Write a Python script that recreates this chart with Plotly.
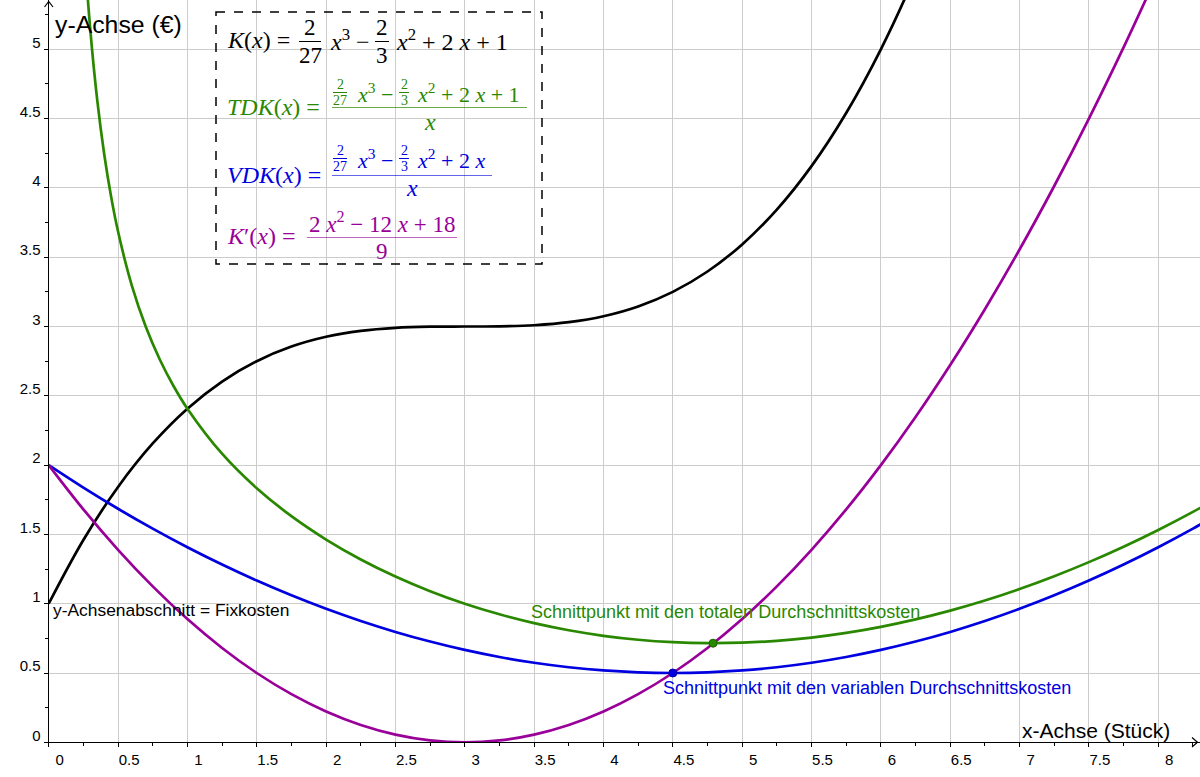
import plotly.graph_objects as go

# ---------- data ----------
x_steps = [0, 0.25, 0.5, 0.75, 1.0, 1.25, 1.5, 1.75, 2.0, 2.25, 2.5, 2.75, 3.0, 3.25,
           3.5, 3.75, 4.0, 4.25, 4.5, 4.75, 5.0, 5.25, 5.5, 5.75, 6.0, 6.25, 6.5,
           6.75, 7.0, 7.25, 7.5, 7.75, 8.0, 8.25, 8.5]

# K(x) total cost
k_vals = [1.0, 1.4595, 1.8426, 2.1563, 2.4074, 2.6030, 2.75, 2.8553, 2.9259, 2.9688,
          2.9907, 2.9988, 3.0, 3.0012, 3.0093, 3.0313, 3.0741, 3.1447, 3.25, 3.3970,
          3.5926, 3.8438, 4.1574, 4.5405, 5.0, 5.5428, 6.1759]

# VDK(x) average variable cost
vdk_vals = [2.0, 1.8380, 1.6852, 1.5417, 1.4074, 1.2824, 1.1667, 1.0602, 0.9630, 0.875,
            0.7963, 0.7269, 0.6667, 0.6157, 0.5741, 0.5417, 0.5185, 0.5046, 0.5, 0.5046,
            0.5185, 0.5417, 0.5741, 0.6157, 0.6667, 0.7269, 0.7963, 0.875, 0.9630, 1.0602,
            1.1667, 1.2824, 1.4074, 1.5417, 1.6852]

# K'(x) marginal cost
mk_vals = [2.0, 1.6806, 1.3889, 1.125, 0.8889, 0.6806, 0.5, 0.3472, 0.2222, 0.125,
           0.0556, 0.0139, 0.0, 0.0139, 0.0556, 0.125, 0.2222, 0.3472, 0.5, 0.6806,
           0.8889, 1.125, 1.3889, 1.6806, 2.0, 2.3472, 2.7222, 3.125, 3.5556, 4.0139,
           4.5, 5.0139, 5.5556]

# TDK(x) average total cost
x_tdk = [0.2, 0.25, 0.3, 0.35, 0.4, 0.45, 0.5, 0.6, 0.7, 0.8, 0.9, 1.0, 1.25, 1.5, 1.75,
         2.0, 2.25, 2.5, 2.75, 3.0, 3.25, 3.5, 3.75, 4.0, 4.25, 4.5, 4.75, 5.0, 5.25,
         5.5, 5.75, 6.0, 6.25, 6.5, 6.75, 7.0, 7.25, 7.5, 7.75, 8.0, 8.25, 8.5]
tdk_vals = [6.8696, 5.8380, 5.1400, 4.6329, 4.2452, 3.9372, 3.6852, 3.2933, 2.9982, 2.7641,
            2.5711, 2.4074, 2.0824, 1.8333, 1.6316, 1.4630, 1.3194, 1.1963, 1.0905, 1.0000,
            0.9234, 0.8598, 0.8083, 0.7685, 0.7399, 0.7222, 0.7151, 0.7185, 0.7321, 0.7559,
            0.7896, 0.8333, 0.8869, 0.9501, 1.0231, 1.1058, 1.1981, 1.3000, 1.4114, 1.5324,
            1.6629, 1.8028]

# intersection points
pt_tdk = (4.79, 0.715)
pt_vdk = (4.5, 0.5)

BLACK = "#000000"
GREEN = "#2a8800"
BLUE = "#0000e0"
PURPLE = "#990099"

W, H = 1200, 777
AX_X = 48.7    # pixel column of the y-axis
AX_Y = 742.3   # pixel row of the x-axis


def px(x):
    return x / W


def py(y):
    return 1 - y / H


annotations = []
shapes = []


def txt(x, y, s, size, color, xanchor="left", family="Liberation Serif"):
    annotations.append(dict(x=px(x), y=py(y), xref="paper", yref="paper", text=s,
                            showarrow=False, xanchor=xanchor, yanchor="middle",
                            font=dict(family=family, size=size, color=color)))


def bar(x0, x1, y, color, width=1.2, opacity=1.0):
    shapes.append(dict(type="line", xref="paper", yref="paper",
                       x0=px(x0), x1=px(x1), y0=py(y), y1=py(y),
                       line=dict(color=color, width=width), opacity=opacity))


def frac(xc, y_num, y_bar, y_den, num, den, size, color, half):
    txt(xc, y_num, num, size, color, "center")
    txt(xc, y_den, den, size, color, "center")
    bar(xc - half, xc + half, y_bar, color, 1)


fig = go.Figure()

fig.add_trace(go.Scatter(x=x_steps[:len(k_vals)], y=k_vals, mode="lines",
                         line=dict(color=BLACK, width=2.7, shape="spline")))
fig.add_trace(go.Scatter(x=x_tdk, y=tdk_vals, mode="lines",
                         line=dict(color=GREEN, width=2.7, shape="spline")))
fig.add_trace(go.Scatter(x=x_steps[:len(vdk_vals)], y=vdk_vals, mode="lines",
                         line=dict(color=BLUE, width=2.7, shape="spline")))
fig.add_trace(go.Scatter(x=x_steps[:len(mk_vals)], y=mk_vals, mode="lines",
                         line=dict(color=PURPLE, width=2.7, shape="spline")))
fig.add_trace(go.Scatter(x=[pt_tdk[0]], y=[pt_tdk[1]], mode="markers", cliponaxis=False,
                         marker=dict(color=GREEN, size=8, line=dict(color="#1e6400", width=1))))
fig.add_trace(go.Scatter(x=[pt_vdk[0]], y=[pt_vdk[1]], mode="markers", cliponaxis=False,
                         marker=dict(color=BLUE, size=8, line=dict(color="#0000a0", width=1))))

# ---------- labels ----------
sans = "Liberation Sans, Arial, sans-serif"
txt(53, 24, "y-Achse (€)", 24.8, BLACK, family=sans)
txt(1172, 730, "x-Achse (Stück)", 21, BLACK, "right", family=sans)
txt(51, 609.5, "y-Achsenabschnitt = Fixkosten", 17.4, BLACK, family=sans)
txt(529, 612, "Schnittpunkt mit den totalen Durchschnittskosten", 18, GREEN, family=sans)
txt(661, 688, "Schnittpunkt mit den variablen Durchschnittskosten", 18, BLUE, family=sans)

# ---------- formula box ----------
shapes.append(dict(type="rect", xref="paper", yref="paper",
                   x0=px(216), x1=px(542), y0=py(12), y1=py(264),
                   line=dict(color=BLACK, width=1.5, dash="dash")))

# K(x)
txt(225, 40, "<i>K</i>(<i>x</i>) =", 24, BLACK)
frac(310, 27, 41.5, 55, "2", "27", 23, BLACK, 11)
txt(328, 40, "<i>x</i><sup>3</sup> −", 24, BLACK)
frac(382, 27, 41.5, 55, "2", "3", 23, BLACK, 7)
txt(394, 40, "<i>x</i><sup>2</sup> + 2 <i>x</i> + 1", 24, BLACK)

# TDK(x)
txt(225, 107, "<i>TDK</i>(<i>x</i>) =", 24, GREEN)
frac(340, 84.5, 92.5, 100.5, "2", "27", 14, GREEN, 7)
txt(355, 93, "<i>x</i><sup>3</sup> −", 22, GREEN)
frac(404, 84.5, 92.5, 100.5, "2", "3", 14, GREEN, 5)
txt(415, 93, "<i>x</i><sup>2</sup> + 2 <i>x</i> + 1", 22, GREEN)
bar(332, 527, 107.5, GREEN, 1.2, 0.7)
txt(430, 122, "<i>x</i>", 24, GREEN, "center")

# VDK(x)
txt(225, 175, "<i>VDK</i>(<i>x</i>) =", 24, BLUE)
frac(340, 150.5, 158.5, 166.5, "2", "27", 14, BLUE, 7)
txt(355, 159, "<i>x</i><sup>3</sup> −", 22, BLUE)
frac(404, 150.5, 158.5, 166.5, "2", "3", 14, BLUE, 5)
txt(415, 159, "<i>x</i><sup>2</sup> + 2 <i>x</i>", 22, BLUE)
bar(332, 492, 175.5, BLUE, 1.2, 0.6)
txt(412, 188, "<i>x</i>", 24, BLUE, "center")

# K'(x)
txt(225, 236, "<i>K</i>′(<i>x</i>) =", 24, PURPLE)
txt(382, 222, "2 <i>x</i><sup>2</sup> − 12 <i>x</i> + 18", 23, PURPLE, "center")
bar(307, 457, 237.5, PURPLE, 1.2, 0.6)
txt(382, 251, "9", 23, PURPLE, "center")

# ---------- axis arrows ----------
shapes.append(dict(type="path", xref="paper", yref="paper",
                   path=f"M {px(44.5)} {py(7)} L {px(AX_X)} {py(1.5)} L {px(53)} {py(7)}",
                   line=dict(color=BLACK, width=1.2)))
shapes.append(dict(type="path", xref="paper", yref="paper",
                   path=f"M {px(1192)} {py(737.5)} L {px(1197.5)} {py(AX_Y)} L {px(1192)} {py(747)}",
                   line=dict(color=BLACK, width=1.2)))

tickfont = dict(family=sans, size=15, color=BLACK)

fig.update_xaxes(range=[0, 8.301], domain=[px(AX_X), 1], automargin=False,
                 showline=True, linecolor=BLACK, linewidth=1.2, zeroline=False,
                 showgrid=True, gridcolor="#cccccc", gridwidth=1,
                 tick0=0, dtick=0.5, ticks="outside", ticklen=4, tickcolor=BLACK,
                 tickfont=tickfont, ticklabelshift=11,
                 minor=dict(dtick=0.25, ticks="outside",
                            ticklen=3, tickcolor=BLACK, showgrid=False))
fig.update_yaxes(range=[0, 5.356], domain=[py(AX_Y), 1], automargin=False,
                 showline=True, linecolor=BLACK, linewidth=1.2, zeroline=False,
                 showgrid=True, gridcolor="#cccccc", gridwidth=1,
                 tick0=0, dtick=0.5, ticks="outside", ticklen=4, tickcolor=BLACK,
                 tickfont=tickfont, ticklabelshift=-7,
                 minor=dict(dtick=0.25, ticks="outside",
                            ticklen=3, tickcolor=BLACK, showgrid=False))

fig.update_layout(width=W, height=H, margin=dict(l=0, r=0, t=0, b=0),
                  paper_bgcolor="white", plot_bgcolor="white", showlegend=False,
                  annotations=annotations, shapes=shapes)

fig.write_html("out.html", config={"displayModeBar": False},
               post_script="document.body.style.margin='0';")
